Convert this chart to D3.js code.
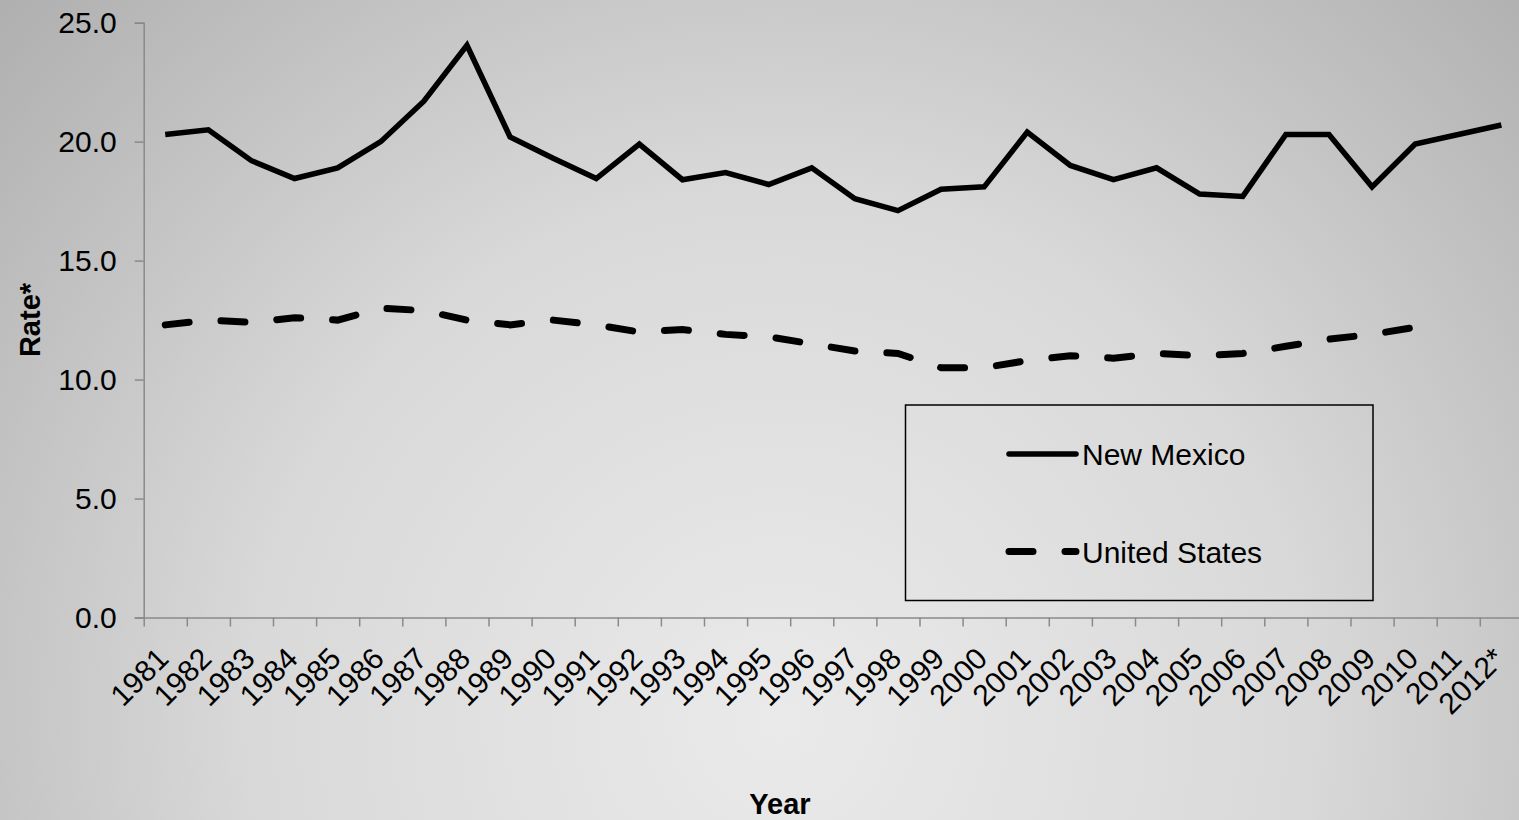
<!DOCTYPE html>
<html>
  <head>
    <meta charset="utf-8">
    <title>New Mexico vs United States rate, 1981-2012</title>
    <script src="https://cdn.jsdelivr.net/npm/d3@7"></script>
    <style>
      html, body { margin: 0; padding: 0; overflow: hidden; }
      svg { display: block; font-family: "Liberation Sans", Arial, sans-serif; }
    </style>
  </head>
  <body>
    <script>
      // chart data
      var years = ["1981", "1982", "1983", "1984", "1985", "1986", "1987", "1988", "1989", "1990",
        "1991", "1992", "1993", "1994", "1995", "1996", "1997", "1998", "1999", "2000",
        "2001", "2002", "2003", "2004", "2005", "2006", "2007", "2008", "2009", "2010",
        "2011", "2012*"];

      var newMexico = [20.3, 20.5, 19.2, 18.45, 18.9, 20.0, 21.7, 24.05, 20.2, 19.3,
        18.45, 19.9, 18.4, 18.7, 18.2, 18.9, 17.6, 17.1, 18.0, 18.1,
        20.4, 19.0, 18.4, 18.9, 17.8, 17.7, 20.3, 20.3, 18.1, 19.9,
        20.3, 20.7];

      // US series stops at 2010
      var unitedStates = [12.3, 12.5, 12.4, 12.6, 12.5, 13.0, 12.9, 12.5, 12.3, 12.5,
        12.3, 12.0, 12.1, 11.9, 11.8, 11.5, 11.2, 11.1, 10.5, 10.5,
        10.8, 11.0, 10.9, 11.1, 11.0, 11.1, 11.4, 11.7, 11.9, 12.2];

      var yTicks = [0, 5, 10, 15, 20, 25];

      var series = [
        { name: "New Mexico", values: newMexico, dash: null, width: 5.5 },
        { name: "United States", values: unitedStates, dash: "24,32", width: 7 }
      ];

      // page size
      var width = 1519,
        height = 820;

      var svg = d3.select("body").append("svg")
        .attr("width", width)
        .attr("height", height);

      // grey slide background, light near the bottom middle
      var grad = svg.append("defs").append("radialGradient")
        .attr("id", "bg")
        .attr("gradientUnits", "userSpaceOnUse")
        .attr("cx", 780).attr("cy", 720).attr("r", 1050);
      grad.append("stop").attr("offset", 0).attr("stop-color", "#eaeaea");
      grad.append("stop").attr("offset", 0.5).attr("stop-color", "#d9d9d9");
      grad.append("stop").attr("offset", 1).attr("stop-color", "#b0b0b0");

      svg.append("rect")
        .attr("width", width)
        .attr("height", height)
        .attr("fill", "url(#bg)");

      // plot area (runs a little past the right edge, like the original)
      var plotLeft = 143.7,
        step = 43.1,
        plotTop = 22.7,
        plotBottom = 617.5;

      var x = d3.scaleBand()
        .domain(years)
        .range([plotLeft, plotLeft + years.length * step]);

      var xEdge = d3.scaleLinear()
        .domain([0, years.length])
        .range(x.range());

      var y = d3.scaleLinear()
        .domain([0, 25])
        .range([plotBottom, plotTop]);

      // y axis
      var yAxis = svg.append("g")
        .attr("transform", "translate(" + plotLeft + ",0)")
        .call(d3.axisLeft(y).tickValues(yTicks).tickFormat(d3.format(".1f")).tickSize(9).tickPadding(18));

      // x axis: ticks on the category edges
      var xAxis = svg.append("g")
        .attr("transform", "translate(0," + plotBottom + ")")
        .call(d3.axisBottom(xEdge).tickValues(d3.range(years.length + 1)).tickFormat("").tickSize(9).tickSizeOuter(0));

      svg.selectAll(".domain, .tick line")
        .attr("stroke", "#8a8a8a")
        .attr("stroke-width", 1.5);

      yAxis.selectAll("text")
        .attr("fill", "#000")
        .style("font-size", "30px");

      // rotated year labels
      svg.append("g").selectAll("text")
        .data(years)
        .enter().append("text")
          .attr("transform", function(d) {
            return "translate(" + (x(d) + x.bandwidth() / 2 + 5) + "," + (plotBottom + 43) + ") rotate(-45)";
          })
          .attr("text-anchor", "end")
          .style("font-size", "30px")
          .text(function(d) { return d; });

      // lines
      var line = d3.line()
        .x(function(d, i) { return x(years[i]) + x.bandwidth() / 2; })
        .y(function(d) { return y(d); });

      svg.append("g").selectAll("path")
        .data(series)
        .enter().append("path")
          .attr("d", function(d) { return line(d.values); })
          .attr("fill", "none")
          .attr("stroke", "#000")
          .attr("stroke-width", function(d) { return d.width; })
          .attr("stroke-linecap", function(d) { return d.dash ? "round" : "butt"; })
          .attr("stroke-linejoin", "miter")
          .attr("stroke-dasharray", function(d) { return d.dash; });

      // axis titles
      svg.append("text")
        .attr("transform", "translate(40,320) rotate(-90)")
        .attr("text-anchor", "middle")
        .style("font-size", "29px")
        .style("font-weight", "bold")
        .text("Rate*");

      svg.append("text")
        .attr("x", 780)
        .attr("y", 814)
        .attr("text-anchor", "middle")
        .style("font-size", "29px")
        .style("font-weight", "bold")
        .text("Year");

      // legend box
      var legend = svg.append("g");

      legend.append("rect")
        .attr("x", 905.5)
        .attr("y", 405)
        .attr("width", 467.5)
        .attr("height", 195.5)
        .attr("fill", "none")
        .attr("stroke", "#000")
        .attr("stroke-width", 1.5);

      var item = legend.selectAll(".item")
        .data(series)
        .enter().append("g")
          .attr("class", "item")
          .attr("transform", function(d, i) { return "translate(0," + (454 + i * 97.5) + ")"; });

      item.append("line")
        .attr("x1", 1009)
        .attr("x2", 1076)
        .attr("stroke", "#000")
        .attr("stroke-width", function(d) { return d.width; })
        .attr("stroke-linecap", "round")
        .attr("stroke-dasharray", function(d) { return d.dash; });

      item.append("text")
        .attr("x", 1082)
        .attr("y", 11)
        .style("font-size", "30px")
        .text(function(d) { return d.name; });
    </script>
  </body>
</html>
